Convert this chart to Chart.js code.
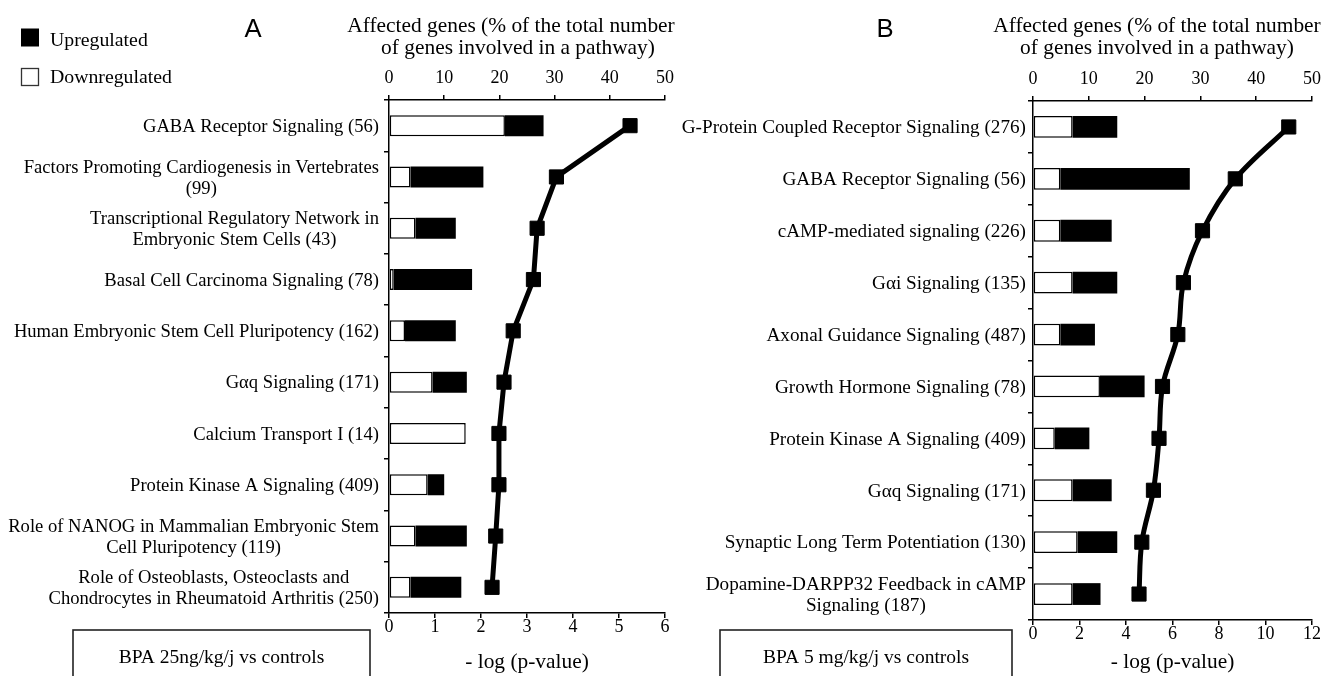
<!DOCTYPE html>
<html>
<head>
<meta charset="utf-8">
<title>Affected pathways - BPA</title>
<script src="https://cdn.jsdelivr.net/npm/chart.js@4.4.1/dist/chart.umd.min.js"></script>
<style>
  html, body { margin: 0; padding: 0; background: #fff; }
  #wrap { position: relative; width: 1344px; height: 676px; overflow: hidden; background: #fff; }
  #wrap canvas { position: absolute; top: 0; }
  #chartA { left: 0; }
  #chartB { left: 660px; }
</style>
</head>
<body>
<div id="wrap">
  <canvas id="chartA" width="700" height="676"></canvas>
  <canvas id="chartB" width="684" height="676"></canvas>
</div>
<script>
// ---- data ----
const seriesNames = ['Upregulated', 'Downregulated'];
const topTitle = ['Affected genes (% of the total number', 'of genes involved in a pathway)'];
const bottomTitle = '- log (p-value)';
const pctTicks = [0, 10, 20, 30, 40, 50];

// panel A : BPA 25ng/kg/j
const labelsA = [
  ['GABA Receptor Signaling (56)'],
  ['Factors Promoting Cardiogenesis in Vertebrates', '(99)'],
  ['Transcriptional Regulatory Network in', 'Embryonic Stem Cells (43)'],
  ['Basal Cell Carcinoma Signaling (78)'],
  ['Human Embryonic Stem Cell Pluripotency (162)'],
  ['G\u03b1q Signaling (171)'],
  ['Calcium Transport I (14)'],
  ['Protein Kinase A Signaling (409)'],
  ['Role of NANOG in Mammalian Embryonic Stem', 'Cell Pluripotency (119)'],
  ['Role of Osteoblasts, Osteoclasts and', 'Chondrocytes in Rheumatoid Arthritis (250)']
];
const downA = [21.0, 3.9, 4.8, 0.85, 2.9, 7.9, 13.9, 7.0, 4.8, 3.9];
const upA   = [7.0, 13.2, 7.3, 14.2, 9.2, 6.2, 0, 3.0, 9.3, 9.2];
const logpA = [5.24, 3.64, 3.22, 3.14, 2.70, 2.50, 2.39, 2.39, 2.32, 2.24];
const logTicksA = [0, 1, 2, 3, 4, 5, 6];

// panel B : BPA 5 mg/kg/j
const labelsB = [
  ['G-Protein Coupled Receptor Signaling (276)'],
  ['GABA Receptor Signaling (56)'],
  ['cAMP-mediated signaling (226)'],
  ['G\u03b1i Signaling (135)'],
  ['Axonal Guidance Signaling (487)'],
  ['Growth Hormone Signaling (78)'],
  ['Protein Kinase A Signaling (409)'],
  ['G\u03b1q Signaling (171)'],
  ['Synaptic Long Term Potentiation (130)'],
  ['Dopamine-DARPP32 Feedback in cAMP', 'Signaling (187)']
];
const downB = [7.1, 4.9, 4.9, 7.1, 4.9, 12.0, 3.9, 7.1, 8.0, 7.1];
const upB   = [8.0, 23.2, 9.2, 8.0, 6.2, 8.0, 6.2, 7.0, 7.1, 5.0];
const logpB = [11.0, 8.70, 7.29, 6.47, 6.23, 5.57, 5.42, 5.18, 4.68, 4.56];
const logTicksB = [0, 2, 4, 6, 8, 10, 12];

// ---- look ----
const SERIF = '"Liberation Serif", "Times New Roman", serif';
const SANS = '"Liberation Sans", Arial, sans-serif';
const INK = '#000';
Chart.defaults.font.family = SERIF;
Chart.defaults.color = INK;

const tickFont = { size: 18, lineHeight: 1 };
const titleFont = { size: 21.4, lineHeight: 1.2 };

// names, panel letter, top title, legend and comparison box
function makeDecor(cfg) {
  return {
    id: 'decor',
    afterDraw(chart) {
      const { ctx, chartArea: area } = chart;
      const yScale = chart.scales.y;
      const dx = cfg.canvasLeft;
      ctx.save();
      ctx.fillStyle = INK;
      ctx.textAlign = 'center';

      // pathway names: block flush right against the axis, lines centred
      ctx.textBaseline = 'middle';
      ctx.font = cfg.labelSize + 'px ' + SERIF;
      chart.data.labels.forEach((lines, i) => {
        const cy = yScale.getPixelForValue(i) + cfg.labelShift;
        const widest = Math.max(...lines.map(t => ctx.measureText(t).width));
        const cx = area.left - cfg.labelGap - widest / 2;
        lines.forEach((t, k) => {
          ctx.fillText(t, cx, cy + (k - (lines.length - 1) / 2) * cfg.labelLine);
        });
      });

      ctx.textBaseline = 'alphabetic';
      ctx.font = titleFont.size + 'px ' + SERIF;
      topTitle.forEach((t, k) => ctx.fillText(t, cfg.titleX[k] - dx, [31.7, 54][k]));

      ctx.font = '25.7px ' + SANS;
      ctx.fillText(cfg.letter, cfg.letterX - dx, 36.6);

      const b = cfg.box;
      ctx.strokeStyle = '#222';
      ctx.lineWidth = 1.6;
      ctx.strokeRect(b.x - dx, b.y, b.w, b.h);
      ctx.font = '19.5px ' + SERIF;
      ctx.fillText(cfg.boxText, b.x - dx + b.w / 2, 663);

      if (cfg.legend) {
        ctx.fillStyle = '#000';
        ctx.fillRect(21, 28.5, 18, 18);
        ctx.fillStyle = '#fff';
        ctx.fillRect(21, 68, 18, 18);
        ctx.strokeStyle = '#333';
        ctx.lineWidth = 1.3;
        ctx.strokeRect(21.5, 68.5, 17, 17);
        ctx.fillStyle = INK;
        ctx.textAlign = 'left';
        ctx.font = '19.8px ' + SERIF;
        ctx.fillText(seriesNames[0], 50, 45.7);
        ctx.fillText(seriesNames[1], 50, 83.3);
      }
      ctx.restore();
    }
  };
}

function axisLine() {
  return {
    grid: { drawOnChartArea: false, drawTicks: true, tickLength: 5, color: '#000', lineWidth: 1.5 },
    border: { display: true, color: '#000', width: 1.5 }
  };
}

function buildPanel(id, p) {
  return new Chart(document.getElementById(id), {
    type: 'bar',
    data: {
      labels: p.labels,
      datasets: [
        {
          type: 'line', label: '-log p', data: p.logp, xAxisID: 'x2', yAxisID: 'y',
          indexAxis: 'y', order: 0,
          borderColor: '#000', borderWidth: 5, tension: p.tension,
          pointStyle: 'rect', pointRadius: 10, pointBackgroundColor: '#000',
          pointBorderColor: '#000', pointBorderWidth: 1
        },
        {
          label: seriesNames[1], data: p.down, stack: 'genes', order: 1,
          backgroundColor: '#fff', borderColor: '#000', borderWidth: 1.5, borderSkipped: false,
          categoryPercentage: 1, barPercentage: p.barPct
        },
        {
          label: seriesNames[0], data: p.up, stack: 'genes', order: 1,
          backgroundColor: '#000', borderWidth: 0,
          categoryPercentage: 1, barPercentage: p.barPct
        }
      ]
    },
    options: {
      indexAxis: 'y',
      responsive: false,
      animation: false,
      layout: { padding: { left: 0, top: 0, right: p.padRight, bottom: 0 } },
      plugins: { legend: { display: false }, tooltip: { enabled: false } },
      scales: {
        x: {
          type: 'linear', position: 'top', min: 0, max: 50, stacked: true,
          afterBuildTicks: s => { s.ticks = pctTicks.map(v => ({ value: v })); },
          afterFit: s => { s.height = p.topH; },
          ...axisLine(),
          ticks: { font: tickFont, color: INK, padding: 8, maxRotation: 0 }
        },
        x2: {
          type: 'linear', axis: 'x', position: 'bottom', min: 0, max: p.logTicks[p.logTicks.length - 1],
          afterBuildTicks: s => { s.ticks = p.logTicks.map(v => ({ value: v })); },
          afterFit: s => { s.height = p.bottomH; },
          ...axisLine(),
          ticks: { font: tickFont, color: INK, padding: 0.5, maxRotation: 0 },
          title: { display: true, text: bottomTitle, font: titleFont, color: INK, padding: { top: 0, bottom: 1.2 } }
        },
        y: {
          type: 'category', position: 'left', offset: true,
          afterFit: s => { s.width = p.leftW; },
          grid: { offset: true, drawOnChartArea: false, drawTicks: true, tickLength: 5, color: '#000', lineWidth: 1.5 },
          border: { display: true, color: '#000', width: 1.5 },
          ticks: { display: false }
        }
      }
    },
    plugins: [makeDecor(p.decor)]
  });
}

buildPanel('chartA', {
  labels: labelsA, down: downA, up: upA, logp: logpA, logTicks: logTicksA,
  tension: 0, barPct: 0.41,
  leftW: 389, topH: 100, bottomH: 63, padRight: 35,
  decor: {
    canvasLeft: 0, labelSize: 18.6, labelShift: 1.3, labelLine: 21, labelGap: 10,
    titleX: [511, 518], letter: 'A', letterX: 253,
    box: { x: 73, y: 630, w: 297, h: 70 }, boxText: 'BPA 25ng/kg/j vs controls',
    legend: true
  }
});

buildPanel('chartB', {
  labels: labelsB, down: downB, up: upB, logp: logpB, logTicks: logTicksB,
  tension: 0.35, barPct: 0.42,
  leftW: 373, topH: 101, bottomH: 56, padRight: 32,
  decor: {
    canvasLeft: 660, labelSize: 19.2, labelShift: 1.3, labelLine: 21.5, labelGap: 7,
    titleX: [1157, 1157], letter: 'B', letterX: 885,
    box: { x: 720, y: 630, w: 292, h: 70 }, boxText: 'BPA 5 mg/kg/j vs controls',
    legend: false
  }
});
</script>
</body>
</html>
